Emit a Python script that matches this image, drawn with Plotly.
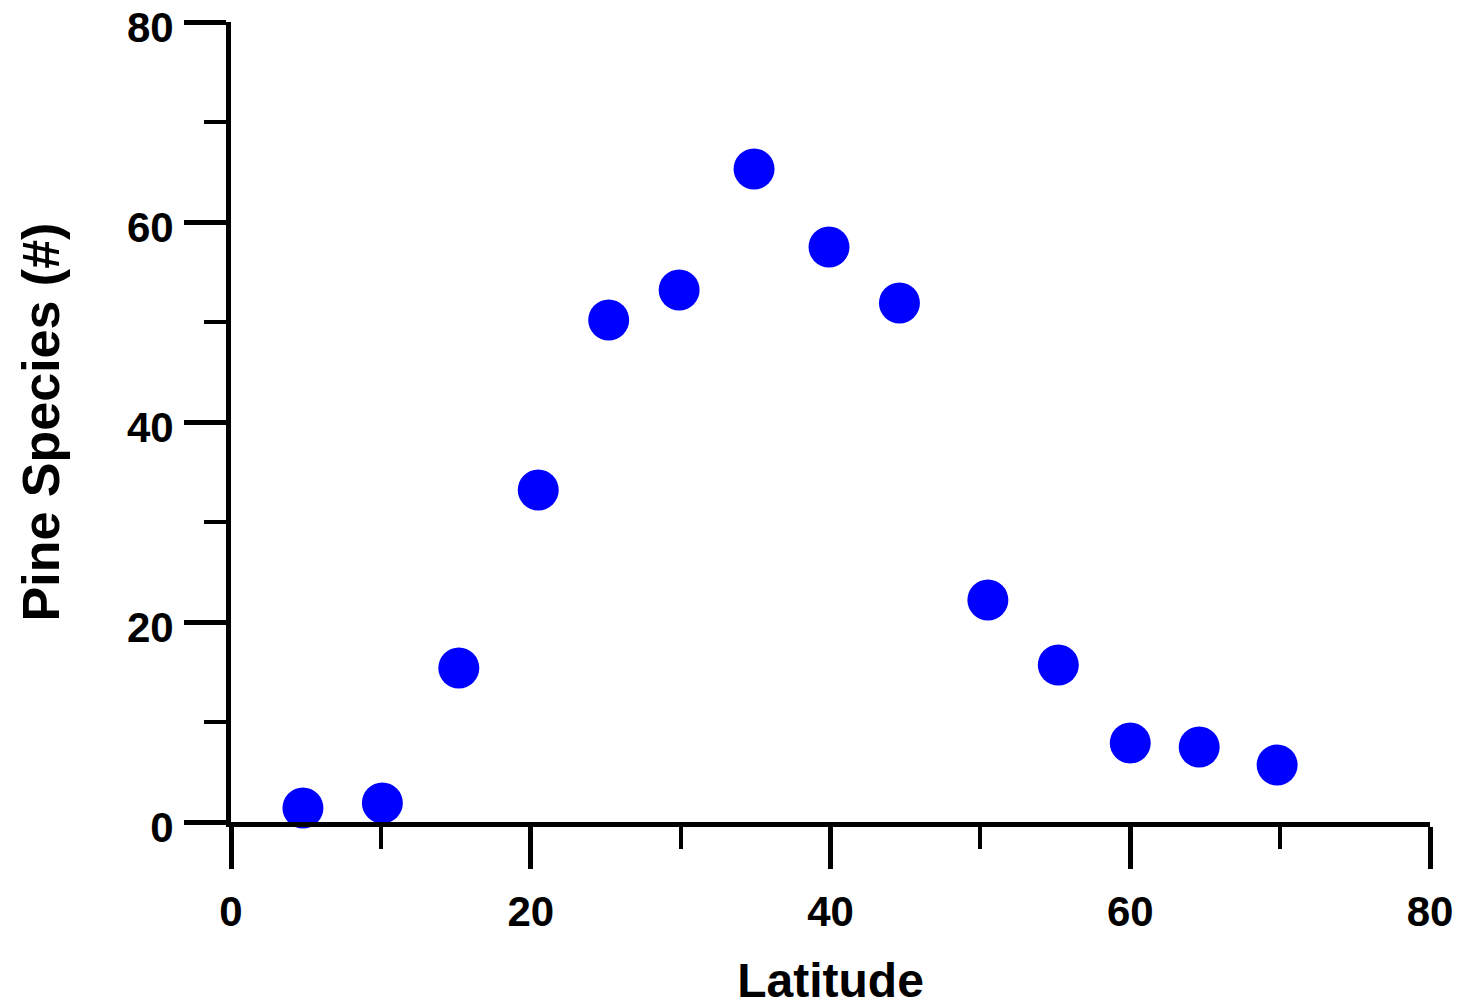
import plotly.graph_objects as go

latitude = [4.8, 10.1, 15.2, 20.5, 25.2, 29.9, 34.9, 39.9, 44.6, 50.5, 55.2, 60.0, 64.6, 69.8]
pine_species = [1.4, 1.9, 15.4, 33.2, 50.2, 53.2, 65.3, 57.5, 51.9, 22.2, 15.7, 7.9, 7.5, 5.7]

tick_values = [0, 20, 40, 60, 80]
tick_labels = ["0", "20", "40", "60", "80"]

x_title = "Latitude"
y_title = "Pine Species (#)"

FONT = "Liberation Sans"

fig = go.Figure()
fig.add_trace(go.Scatter(
    x=latitude, y=pine_species, mode="markers",
    marker=dict(color="#0000FF", size=41, line=dict(width=0)),
    cliponaxis=False, showlegend=False,
))

axis_common = dict(
    range=[0, 80], tickmode="array", tickvals=tick_values, ticktext=tick_labels,
    showgrid=False, zeroline=False,
    showline=True, linecolor="black", linewidth=5,
    ticks="outside", ticklen=42, tickwidth=5, tickcolor="black",
    minor=dict(dtick=10, tick0=0, ticks="outside", ticklen=22, tickwidth=4, tickcolor="black"),
    tickfont=dict(family=FONT, size=42, color="black", weight="bold"),
    ticklabeloverflow="allow",
    automargin=False,
    layer="above traces",
)

fig.update_xaxes(**axis_common, ticklabelstandoff=7,
                 title=dict(text=x_title, font=dict(family=FONT, size=48, color="black", weight="bold"), standoff=36))
fig.update_yaxes(**axis_common, ticklabelshift=5, ticklabelstandoff=2,
                 title=dict(text=y_title, font=dict(family=FONT, size=52, color="black", weight="bold"), standoff=52))

fig.update_layout(
    width=1463, height=1007,
    margin=dict(l=231, r=33, t=22, b=185),
    plot_bgcolor="white", paper_bgcolor="white",
)

fig.write_html("out.html")
